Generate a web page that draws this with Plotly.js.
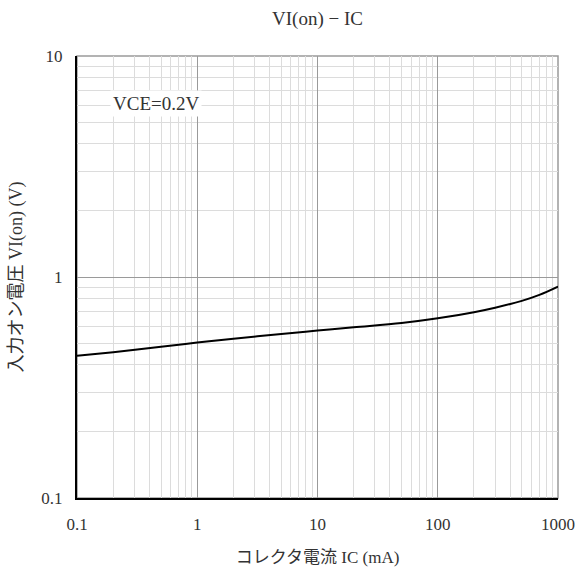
<!DOCTYPE html>
<html>
<head>
<meta charset="utf-8">
<script src="https://cdn.plot.ly/plotly-3.0.1.min.js"></script>
<style>html,body{margin:0;padding:0;background:#fff;}#chart{width:581px;height:572px;}</style>
</head>
<body>
<div id="chart"></div>
<script>
const icValues = [0.1, 0.2, 0.5, 1, 2, 5, 10, 20, 50, 100, 200, 300, 500, 700, 1000];
const vionValues = [0.44, 0.457, 0.483, 0.505, 0.526, 0.552, 0.572, 0.592, 0.619, 0.65, 0.693, 0.726, 0.78, 0.83, 0.905];
const xTickVals = [0.1, 1, 10, 100, 1000];
const xTickText = ['0.1', '1', '10', '100', '1000'];
const yTickVals = [0.1, 1, 10];
const yTickText = ['0.1', '1', '10'];
const minorMultipliers = [2, 3, 4, 5, 6, 7, 8, 9];
const xMinor = [];
[0.1, 1, 10, 100].forEach(d => minorMultipliers.forEach(m => xMinor.push(+(d * m).toPrecision(3))));
const yMinor = [];
[0.1, 1].forEach(d => minorMultipliers.forEach(m => yMinor.push(+(d * m).toPrecision(3))));
const titleText = 'VI(on) − IC';
const xTitle = 'コレクタ電流 IC (mA)';
const yTitle = '入力オン電圧 VI(on) (V)';
const noteText = 'VCE=0.2V';

const FONT = '"Liberation Serif", "DejaVu Serif", "Noto Sans CJK JP", serif';

const trace = {
  x: icValues, y: vionValues, type: 'scatter', mode: 'lines',
  line: {color: '#000', width: 2, shape: 'spline', smoothing: 1},
  hoverinfo: 'skip'
};

const layout = {
  width: 581, height: 572,
  margin: {l: 77, r: 23, t: 56, b: 74},
  paper_bgcolor: '#fff', plot_bgcolor: '#fff',
  showlegend: false,
  font: {family: FONT, size: 16, color: '#333'},
  title: {text: titleText, x: 0.5465, xanchor: 'center', y: 0.968, yanchor: 'middle', font: {family: FONT, size: 19, color: '#333'}},
  xaxis: {
    type: 'log', range: [-1, 3], tickvals: xTickVals, ticktext: xTickText,
    showgrid: true, gridcolor: '#9a9a9a', gridwidth: 1,
    showline: true, linecolor: '#000', linewidth: 2,
    ticks: '', ticklabelstandoff: 10, tickfont: {family: FONT, size: 17, color: '#333'},
    minor: {tickvals: xMinor, showgrid: true, gridcolor: '#dcdcdc', gridwidth: 1, ticks: ''},
    zeroline: false,
    title: {text: xTitle, standoff: 18, font: {family: FONT, size: 17, color: '#333'}}
  },
  yaxis: {
    type: 'log', range: [-1, 1], tickvals: yTickVals, ticktext: yTickText,
    showgrid: true, gridcolor: '#9a9a9a', gridwidth: 1,
    showline: true, linecolor: '#000', linewidth: 2,
    ticks: '', ticklabelstandoff: 9, tickfont: {family: FONT, size: 17, color: '#333'},
    minor: {tickvals: yMinor, showgrid: true, gridcolor: '#dcdcdc', gridwidth: 1, ticks: ''},
    zeroline: false,
    title: {text: yTitle, standoff: 14, font: {family: FONT, size: 18, color: '#333'}}
  },
  shapes: [{
    type: 'rect', xref: 'paper', yref: 'paper', x0: 0, x1: 1, y0: 0, y1: 1,
    line: {color: '#9a9a9a', width: 1.5}, layer: 'below'
  }],
  annotations: [{
    text: noteText, xref: 'x', yref: 'y', x: Math.log10(0.454), y: Math.log10(6.1),
    showarrow: false, bgcolor: '#fff', borderpad: 2,
    font: {family: FONT, size: 19, color: '#333'}
  }]
};

Plotly.newPlot('chart', [trace], layout, {staticPlot: true, displayModeBar: false});
</script>
</body>
</html>
